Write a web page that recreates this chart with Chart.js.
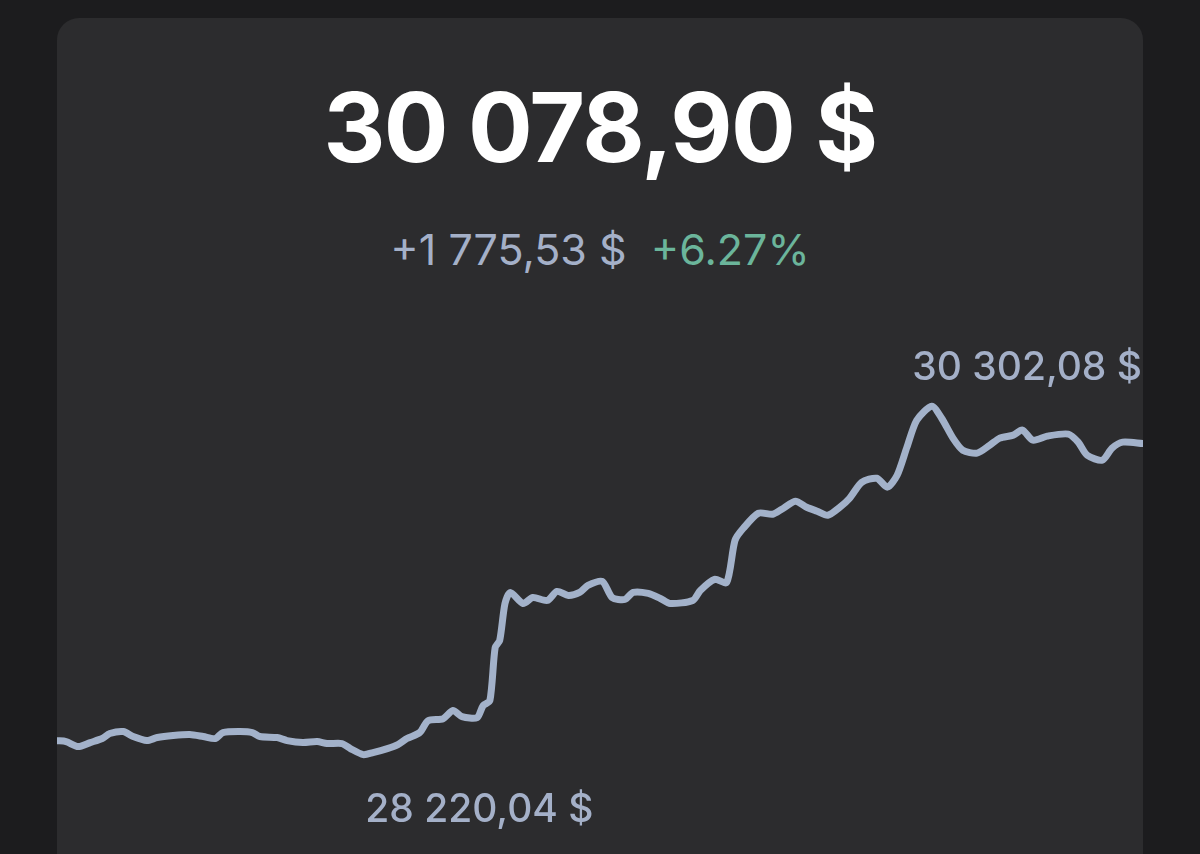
<!DOCTYPE html>
<html lang="fr">

<head>
    <meta charset="UTF-8">
    <meta name="viewport" content="width=device-width, initial-scale=1.0">
    <title>BTC</title>
    <script src="https://cdn.jsdelivr.net/npm/chart.js"></script>
    <style>
        html, body { margin: 0; padding: 0; }
        body {
            width: 1200px;
            height: 854px;
            background: #1c1c1e;
            overflow: hidden;
            position: relative;
            font-family: Inter, "Noto Sans", sans-serif;
        }
        .card {
            position: absolute;
            left: 57px;
            top: 18px;
            width: 1086px;
            height: 900px;
            background: #2c2c2e;
            border-radius: 22px;
            overflow: hidden;
        }
        .price {
            position: absolute;
            left: 0;
            right: 0;
            top: 61px;
            text-align: center;
            font-size: 96px;
            line-height: 1;
            font-weight: 700;
            color: #ffffff;
            letter-spacing: -1.6px;
        }
        .change {
            position: absolute;
            left: 0;
            right: 0;
            top: 210px;
            text-align: center;
            font-size: 43px;
            line-height: 1;
            font-weight: 400;
            color: #a4b0c8;
            white-space: pre;
        }
        .change .pct { color: #6bb59b; }
        .chart-box {
            position: absolute;
            left: 0;
            top: 273px;
            width: 1086px;
            height: 554px;
        }
    </style>
</head>

<body>
    <div class="card">
        <div class="price">30 078,90 $</div>
        <div class="change">+1 775,53 $  <span class="pct">+6.27%</span></div>
        <div class="chart-box">
            <canvas id="priceChart"></canvas>
        </div>
    </div>
    <script>
        // minutes since start of the day
        const times = [
            0, 12, 28, 44, 60, 70, 88, 101, 119, 133, 154, 176, 194, 210, 220, 243, 259, 269, 292, 305,
            326, 345, 358, 378, 389, 406, 419, 438, 452, 464, 481, 492, 512, 525, 537, 557, 565, 574, 581, 587,
            594, 601, 618, 631, 650, 663, 678, 693, 704, 723, 736, 753, 764, 784, 800, 813, 843, 853, 872, 888,
            899, 910, 930, 949, 961, 979, 994, 1008, 1022, 1038, 1051, 1067, 1087, 1101, 1114, 1127, 1140, 1160, 1173, 1188,
            1201, 1220, 1237, 1250, 1268, 1280, 1294, 1313, 1341, 1354, 1366, 1386, 1399, 1413, 1440
        ];

        const prices = [
            28303.37, 28298, 28268, 28292, 28316, 28346, 28358, 28328, 28304, 28322, 28334, 28340, 28328, 28316, 28352, 28358, 28352, 28328, 28322, 28304,
            28292, 28298, 28286, 28286, 28256, 28220.04, 28232, 28256, 28280, 28316, 28352, 28423, 28435, 28483, 28447, 28441, 28513, 28543, 28860, 28902,
            29123, 29189, 29123, 29159, 29141, 29195, 29171, 29189, 29231, 29255, 29159, 29147, 29189, 29183, 29153, 29123, 29141, 29201, 29267, 29249,
            29500, 29572, 29662, 29656, 29686, 29734, 29698, 29674, 29650, 29698, 29752, 29847, 29871, 29818, 29889, 30057, 30218, 30302.08, 30230, 30111,
            30039, 30021, 30069, 30111, 30129, 30159, 30099, 30123, 30135, 30087, 30009, 29979, 30051, 30087, 30078.90
        ];

        const yMin = 27680;
        const yMax = 30990;

        const fmt = v => v.toFixed(2).replace('.', ',').replace(/\B(?=(\d{3})+(?!\d))/g, ' ') + ' $';

        // high / low labels next to the extreme points
        const extremesLabels = {
            id: 'extremesLabels',
            afterDatasetsDraw(chart) {
                const ctx = chart.ctx;
                const pts = chart.getDatasetMeta(0).data;
                const area = chart.chartArea;
                const hi = prices.indexOf(Math.max(...prices));
                const lo = prices.indexOf(Math.min(...prices));
                ctx.save();
                ctx.font = '500 39px Inter, "Noto Sans", sans-serif';
                ctx.fillStyle = '#a4b0c8';
                ctx.textAlign = 'left';
                ctx.textBaseline = 'alphabetic';
                [[hi, -26], [lo, 67]].forEach(([i, dy]) => {
                    const txt = fmt(prices[i]);
                    const w = ctx.measureText(txt).width;
                    const x = Math.min(pts[i].x + 2, area.right - w - 1);
                    ctx.fillText(txt, x, pts[i].y + dy);
                });
                ctx.restore();
            }
        };

        new Chart(document.getElementById('priceChart'), {
            type: 'line',
            data: {
                datasets: [{
                    data: times.map((t, i) => ({ x: t, y: prices[i] })),
                    borderColor: '#a3b2ca',
                    borderWidth: 7,
                    borderCapStyle: 'round',
                    borderJoinStyle: 'round',
                    pointRadius: 0,
                    tension: 0.25,
                    fill: false,
                    clip: false
                }]
            },
            options: {
                responsive: true,
                maintainAspectRatio: false,
                animation: false,
                layout: { padding: 0 },
                plugins: {
                    legend: { display: false },
                    tooltip: { enabled: false }
                },
                scales: {
                    x: { type: 'linear', min: 0, max: 1440, display: false },
                    y: { min: yMin, max: yMax, display: false }
                }
            },
            plugins: [extremesLabels]
        });
    </script>
</body>

</html>
